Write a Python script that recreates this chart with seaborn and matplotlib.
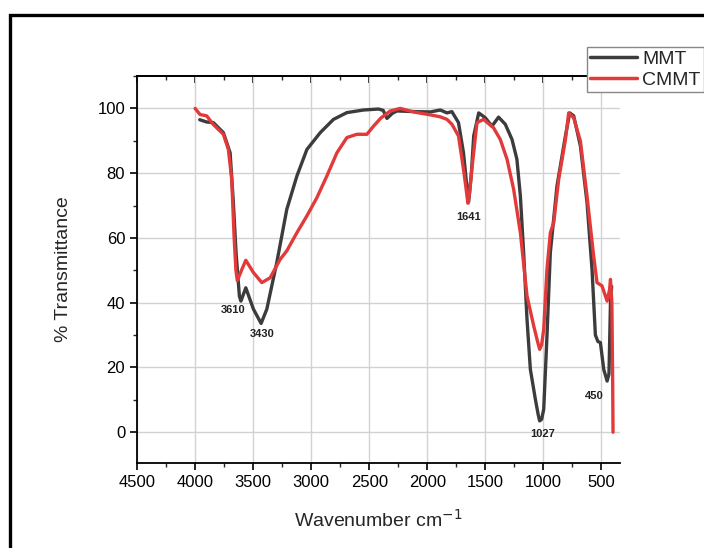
import numpy as np
import pandas as pd
import matplotlib
matplotlib.use("Agg")
import matplotlib.pyplot as plt
import seaborn as sns
from matplotlib.patches import Rectangle
from matplotlib.ticker import MultipleLocator

# ---- data ----
mmt_wn = [3960, 3900, 3842, 3756, 3698, 3670, 3647, 3618, 3605, 3563, 3497, 3431,
          3382, 3296, 3210, 3123, 3037, 2922, 2808, 2692, 2549, 2420, 2380, 2347,
          2300, 2261, 2100, 1974, 1888, 1830, 1788, 1731, 1688, 1665, 1644, 1620,
          1600, 1557, 1500, 1443, 1386, 1328, 1270, 1228, 1198, 1170, 1141, 1112,
          1069, 1045, 1032, 1015, 997, 969, 940, 883, 810, 773, 739, 681, 624, 581,
          552, 530, 509, 480, 451, 435, 422, 412]
mmt_t = [96.5, 95.8, 95.6, 92.5, 86.3, 70.9, 55.5, 42.0, 40.5, 44.6, 38.0, 33.6,
         38.0, 52.4, 68.8, 79.1, 87.3, 92.5, 96.6, 98.7, 99.5, 99.8, 99.4, 96.9,
         98.5, 99.2, 99.0, 98.9, 99.5, 98.6, 99.0, 95.6, 86.3, 78.0, 71.0, 80.0,
         91.5, 98.6, 97.1, 94.5, 97.3, 95.1, 90.4, 84.3, 72.9, 55.5, 34.9, 19.4,
         10.2, 5.5, 3.5, 4.0, 7.1, 29.7, 55.5, 76.0, 91.5, 98.6, 97.7, 88.4, 70.9, 50.3,
         30.0, 28.0, 27.7, 19.4, 15.8, 18.0, 40.0, 45.0]

cmmt_wn = [4000, 3957, 3900, 3842, 3756, 3713, 3684, 3664, 3648, 3636, 3600, 3563,
           3497, 3425, 3353, 3267, 3210, 3123, 3037, 2951, 2865, 2778, 2692, 2606,
           2520, 2463, 2400, 2319, 2233, 2118, 1974, 1888, 1830, 1788, 1731, 1688,
           1665, 1650, 1635, 1616, 1572, 1515, 1429, 1371, 1313, 1256, 1198, 1141,
           1083, 1050, 1032, 1015, 997, 969, 940, 911, 868, 810, 782, 739, 681, 624,
           567, 538, 495, 451, 430, 422, 410, 403, 400]
cmmt_t = [100.0, 98.1, 97.7, 95.0, 92.0, 87.3, 78.0, 60.6, 50.0, 46.8, 50.0, 53.1,
          49.3, 46.2, 47.7, 53.4, 56.0, 61.6, 66.8, 72.4, 79.1, 86.3, 91.0, 92.0,
          92.0, 94.5, 97.0, 99.2, 100.0, 98.9, 98.0, 97.4, 96.6, 95.1, 91.5, 81.2,
          75.0, 70.7, 74.0, 81.2, 95.6, 96.6, 94.0, 90.4, 84.3, 75.0, 61.6, 42.1,
          32.8, 28.0, 25.6, 27.0, 31.8, 50.3, 61.6, 64.7, 78.1, 90.4, 98.6, 97.1, 89.9, 72.9,
          54.4, 46.2, 45.2, 40.5, 44.0, 47.2, 40.0, 15.0, 0.0]

series_names = ["MMT", "CMMT"]
peak_labels = ["3610", "3430", "1641", "1027", "450"]
peak_x = [3672, 3422, 1647, 1009, 560]
peak_y = [37.7, 30.2, 66.4, -0.6, 11.1]

x_ticks = [4500, 4000, 3500, 3000, 2500, 2000, 1500, 1000, 500]
y_ticks = [0, 20, 40, 60, 80, 100]

df = pd.concat([
    pd.DataFrame({"wn": mmt_wn, "T": mmt_t, "sample": series_names[0]}),
    pd.DataFrame({"wn": cmmt_wn, "T": cmmt_t, "sample": series_names[1]}),
], ignore_index=True)

sns.set_theme(style="ticks")
plt.rcParams["font.family"] = ["Liberation Sans", "DejaVu Sans"]

fig = plt.figure(figsize=(7.04, 5.48), dpi=100)
ax = fig.add_axes([137/704, 1-463/548, (620-137)/704, (463-76)/548])

palette = {"MMT": "#3c3c3c", "CMMT": "#e23a3a"}
sns.lineplot(data=df, x="wn", y="T", hue="sample", hue_order=series_names,
             palette=palette, linewidth=2.4, ax=ax, estimator=None, sort=False,
             legend=True)

ax.set_xlim(4500, 340)
ax.set_ylim(-9.5, 110)
ax.set_xticks(x_ticks)
ax.set_yticks(y_ticks)
ax.xaxis.set_minor_locator(MultipleLocator(250))
ax.yaxis.set_minor_locator(MultipleLocator(10))
ax.grid(True, which="major", color="#d2d2d2", linewidth=1.0)
ax.set_axisbelow(True)

for s in ["left", "bottom", "top"]:
    ax.spines[s].set_color("black")
    ax.spines[s].set_linewidth(1.3)
ax.spines["right"].set_visible(False)

ax.tick_params(axis="both", which="major", direction="out", length=5, width=1.2,
               labelsize=12, colors="black", top=False, right=False)
ax.tick_params(axis="both", which="minor", direction="out", length=3, width=1.0,
               top=False, right=False)

# top axis with inward ticks
top = ax.secondary_xaxis("top")
top.set_xticks(x_ticks)
top.xaxis.set_minor_locator(MultipleLocator(250))
top.tick_params(axis="x", which="major", direction="in", length=5, width=1.2,
                labeltop=False, colors="black")
top.tick_params(axis="x", which="minor", direction="in", length=3, width=1.0)
top.spines["top"].set_linewidth(1.3)
top.spines["top"].set_color("black")

ax.set_xlabel("Wavenumber cm$^{-1}$", fontsize=14, labelpad=14)
ax.set_ylabel("% Transmittance", fontsize=14, labelpad=18)

for lab, px, py in zip(peak_labels, peak_x, peak_y):
    ax.text(px, py, lab, fontsize=8, fontweight="bold", ha="center", va="center",
            color="#222222")

leg = ax.legend(loc="upper left", bbox_to_anchor=(587/704, 1-47/548),
                bbox_transform=fig.transFigure, frameon=True, fancybox=False,
                edgecolor="#888888", framealpha=1, fontsize=14, handlelength=2.4,
                handletextpad=0.3, borderpad=0.15, labelspacing=0.2,
                borderaxespad=0, title=None)
for line in leg.get_lines():
    line.set_linewidth(2.5)

fig.patches.append(Rectangle((10/704, -0.1), 1.2, 1.1 - 15/548,
                             transform=fig.transFigure, fill=False,
                             edgecolor="black", linewidth=2.4, figure=fig))

fig.savefig("out.png", dpi=100)
